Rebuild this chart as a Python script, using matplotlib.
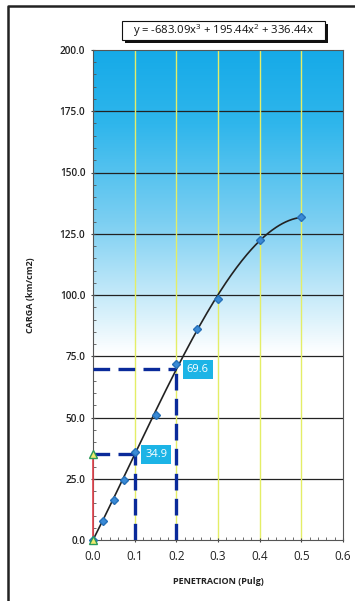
import numpy as np
import matplotlib.pyplot as plt
from matplotlib.colors import LinearSegmentedColormap
from matplotlib.patches import Rectangle
from matplotlib.lines import Line2D
from matplotlib.ticker import MultipleLocator

# data
penetracion = [0.0, 0.025, 0.05, 0.075, 0.1, 0.15, 0.2, 0.25, 0.3, 0.4, 0.5]
carga = [0.0, 7.7, 16.4, 24.6, 35.9, 51.0, 72.0, 86.0, 98.5, 122.5, 132.0]
coef = [-683.09, 195.44, 336.44, 0.0]   # trendline from the label
x_ref = [0.1, 0.2]
y_ref = [34.9, 69.6]
eq_text = "y = -683.09x$^3$ + 195.44x$^2$ + 336.44x"

plt.rcParams['font.family'] = ['Open Sans', 'DejaVu Sans']
plt.rcParams['mathtext.fontset'] = 'custom'
plt.rcParams['mathtext.rm'] = 'Open Sans'

W, H = 355, 601
fig = plt.figure(figsize=(3.55, 6.01), dpi=100)
ax = fig.add_axes([93/W, 1 - 540/H, 250/W, 490/H])

# frame (only top and left edges are visible in the scan)
fig.lines.append(Line2D([8/W, 8/W, 1], [0, 1 - 6/H, 1 - 6/H], transform=fig.transFigure,
                        lw=1.8, color='#222222'))

# equation box with shadow
fig.patches.append(Rectangle((125/W, 1 - 43/H), 203/W, 19/H, transform=fig.transFigure,
                             fc='#111111', ec='none'))
fig.patches.append(Rectangle((122/W, 1 - 40/H), 203/W, 19/H, transform=fig.transFigure,
                             fc='white', ec='#111111', lw=0.8))
fig.text(223.5/W, 1 - 30.5/H, eq_text, fontsize=8.1, ha='center', va='center', color='#111111')

# background gradient
cmap = LinearSegmentedColormap.from_list('bg', [(0, 'white'), (0.38, 'white'), (0.65, '#7ccff2'),
                                                 (0.85, '#2fb6ec'), (1, '#16aae8')])
grad = np.linspace(0, 1, 256).reshape(-1, 1)
ax.imshow(grad, extent=[0, 0.6, 0, 200], origin='lower', aspect='auto', cmap=cmap, zorder=0)

ax.set_xlim(0, 0.6)
ax.set_ylim(0, 200)
ax.xaxis.set_major_locator(MultipleLocator(0.1))
ax.xaxis.set_minor_locator(MultipleLocator(0.02))
ax.yaxis.set_major_locator(MultipleLocator(25))
ax.yaxis.set_minor_locator(MultipleLocator(5))
ax.yaxis.set_major_formatter(plt.FuncFormatter(lambda v, p: f"{v:.1f}"))
ax.xaxis.set_major_formatter(plt.FuncFormatter(lambda v, p: f"{v:.1f}"))
ax.tick_params(axis='both', which='major', length=3, direction='inout', colors='#444444',
               labelcolor='#222222', pad=4)
ax.tick_params(axis='both', which='minor', length=2, direction='in', colors='#555555')
ax.tick_params(axis='y', labelsize=7.2)
ax.tick_params(axis='x', labelsize=8.5, pad=6)
for lab in ax.get_yticklabels():
    lab.set_fontweight('semibold')
for s in ax.spines.values():
    s.set_color('#555555')
    s.set_linewidth(0.8)

for gy in np.arange(25, 200, 25):
    ax.axhline(gy, color='#222222', lw=0.9, zorder=1)
for gx in np.arange(0.1, 0.6, 0.1):
    ax.axvline(gx, color='#e4ee66', lw=1.0, zorder=1)

# trendline
xs = np.linspace(0, 0.5, 200)
ax.plot(xs, np.polyval(coef, xs), color='#222222', lw=1.2, zorder=3)
ax.plot(penetracion, carga, ls='none', marker='D', ms=4, color='#3a8ad6', mec='#2570b8',
        zorder=4, clip_on=False)

# reference lines
ax.plot([0, 0], [0, y_ref[0]], color='#e0404a', lw=1.2, zorder=3, clip_on=False)
ax.plot([0, 0], [0, y_ref[0]], ls='none', marker='^', ms=6, color='#f0ea70', mec='#2a9a5a',
        zorder=5, clip_on=False)
for xr, yr in zip(x_ref, y_ref):
    ax.plot([0, xr], [yr, yr], color='#0a2a9a', lw=2.4, ls=(0, (5, 2.5)), zorder=3)
    ax.plot([xr, xr], [0, yr], color='#0a2a9a', lw=2.4, ls=(0, (5, 2.5)), zorder=3)
    ax.text(xr + 0.025, yr, f"{yr:.1f}", color='white', fontsize=8, va='center', ha='left', zorder=6,
            bbox=dict(boxstyle='square,pad=0.35', fc='#1cb4e6', ec='none'))

ax.set_xlabel("PENETRACION (Pulg)", fontsize=6.5, fontweight='bold', color='#222222', labelpad=10)
ax.set_ylabel("CARGA (km/cm2)", fontsize=6.5, fontweight='bold', color='#222222', labelpad=18)

fig.savefig("out.png", dpi=100)
